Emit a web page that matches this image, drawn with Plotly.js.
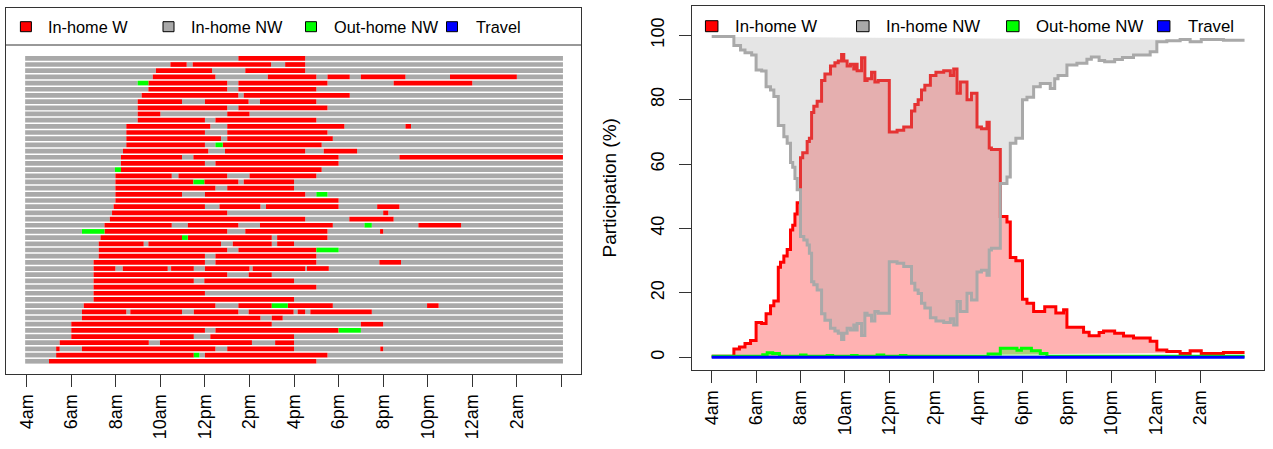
<!DOCTYPE html>
<html><head><meta charset="utf-8">
<script src="https://cdn.plot.ly/plotly-3.0.1.min.js"></script>
<style>html,body{margin:0;padding:0;background:#fff}#chart{width:1273px;height:449px}</style>
</head><body><div id="chart"></div>
<script>
// ---------- data ----------
const states = ["In-home W", "In-home NW", "Out-home NW", "Travel"];
const stateCodes = ["W", "N", "O", "T"];
const stateColors = ["#FF0000", "#A9A9A9", "#00FF00", "#0000FF"];
const stateFills = ["rgba(255,0,0,0.3)", "rgba(169,169,169,0.3)", "rgba(0,255,0,0.3)", "rgba(0,0,255,0.3)"];

const hourTicks = [4, 6, 8, 10, 12, 14, 16, 18, 20, 22, 24, 26, 28];
const hourLabels = ["4am", "6am", "8am", "10am", "12pm", "2pm", "4pm", "6pm", "8pm", "10pm", "12am", "2am", ""];
const pctTicks = [0, 20, 40, 60, 80, 100];

// individual sequences (top row first): state code + start hour
const seqStart = 3.93, seqEnd = 28.07;
const seqRows = [
  "N4 W13.5 N16.5",
  "N4 W10.45 N11.18 W11.45 N14.97 W15.6 N16.5",
  "N4 W9.8 N12.32 W13.81 N16.5",
  "N4 W9.66 N12.47 W14.82 N17 W17.5 N18.5 W19 N21 W23 N26",
  "N4 O8.98 W9.46 N13 W13.5 N17.5 W20.47 N24",
  "N4 W9.46 N13 W13.5 N17",
  "N4 W9.16 N13.5 W13.74 N18.5",
  "N4 W8.98 N10.97 W12 N13.96 W14.47 N17",
  "N4 W8.98 N13 W13.5 N17.5",
  "N4 W8.98 N10 W13 N14",
  "N4 W8.98 N12 W12.47 N17",
  "N4 W8.47 N12.24 W13 N18.26 W21 N21.25",
  "N4 W8.47 N12 W13 N17.5",
  "N4 W8.47 N12.72 W13 N17.74",
  "N4 W8.47 N12 O12.47 W12.8 N17.24",
  "N4 W8.32 N12.15 W12.9 N16.5 W17.33 N18.83",
  "N4 W8.23 N10.97 W11.48 N18 W20.73",
  "N4 W8.23 N12 W12.47 N18",
  "N4 O7.96 W8.23 N17.24",
  "N4 W7.98 N10.51 W10.81 N13 W14 N17",
  "N4 W7.98 O11.48 W11.97 N13.5 W13.74 N16",
  "N4 W7.98 N12.47 W13 N16",
  "N4 W7.98 N10.97 W12 N16.5 O17 N17.5",
  "N4 W7.98 N18",
  "N4 W7.9 N12 W12.65 N14.49 W14.74 N18 W19.73 N20.73",
  "N4 W7.83 N13 W20 N20.23",
  "N4 W7.73 N16.5 W18.48 N20.47",
  "N4 W7.49 N10.51 W11.23 N13.5 W14.47 N17.74 O19.16 N19.49 W21.58 N23.5",
  "N4 O6.48 W7.49 N13 W13.81 N17.5 W19.86 N20",
  "N4 W7.31 O10.97 W11.23 N15 W15.24 N17.5",
  "N4 W7.23 N9.25 W9.46 N12.72 W13.25 N15 W15.24 N16",
  "N4 W7.23 N13 W13.5 O17 N18",
  "N4 W7.23 N12 W12.47 N17",
  "N4 W7 N12 W12.47 N17 W19.83 N20.8",
  "N4 W7 N7.98 W8.31 N10.33 W10.48 N11.5 W12 N14 W14.14 N16.5 W16.58 N17.56",
  "N4 W7 N13 W13.96 N15",
  "N4 W7 N11.5 W11.97 N16",
  "N4 W7 N17",
  "N4 W7 N12",
  "N4 W7 N16",
  "N4 W6.56 N12.47 W13.5 O15 W15.72 N17.74 W21.97 N22.49",
  "N4 W6.48 N8.47 W8.65 N10.97 W11.5 N13.5 W13.96 N15.98 W16.16 N16.5 W16.73 N19.49",
  "N4 W6.48 N14.49 W15 N15.49",
  "N4 W6 N15 W19 N20",
  "N4 W6 N12 W12.47 O18 N19",
  "N4 W6 N11.5 W12.24 N16",
  "N4 W5.48 N9.48 W9.98 N14.11 W15.15 N16",
  "N4 W5.32 N5.48 W6.48 N12.47 W13 N16 W19.87 N20",
  "N4 W5.32 O11.5 N11.75 W12 N17.5",
  "N4 W5 N17"
];

// participation (%) step series
const timeW = [4,5,5.25,5.5,5.75,6,6.25,6.45,6.65,6.8,7,7.1,7.25,7.4,7.55,7.65,7.75,7.85,8,8.1,8.3,8.4,8.5,8.6,8.75,8.95,9.1,9.35,9.55,9.7,9.85,9.95,10.1,10.25,10.4,10.5,10.55,10.75,10.9,11,11.2,11.35,11.5,12,12.35,12.65,13,13.15,13.3,13.45,13.6,13.85,14.1,14.45,14.75,14.9,15.05,15.2,15.5,15.7,15.95,16.15,16.4,16.5,16.6,17,17.3,17.45,17.7,18,18.2,18.5,19,19.5,19.85,20,20.75,21,21.45,21.65,22.15,22.55,23,23.75,24.05,24.5,25.1,25.55,26.05,27.05,28];
const inHomeW = [0.3,2.6,3.2,4.3,5.2,10.8,10.5,13.5,16,17.5,28,29.5,31.5,33.5,39.5,41,44.5,48,62,63.5,67,68,76,78,79.5,86,88,90.5,91.5,92,94,92,90.5,91,89.5,91,89,93,86,86.5,88.5,85.5,86,70,70.5,71.5,76.5,78.5,80,83,84.5,87.5,88.5,89,87.5,89.5,82,85.5,80,82,71.5,71,73,65,64.5,43.7,42,31,30,18,16.8,14.2,15.7,13.8,14.8,9.3,7.8,6.7,7.7,8.2,7.5,6.6,6,5,2.3,1.8,1.2,2,1.2,1.5,1.5];

const timeNW = [4,5,5.3,5.5,5.8,6,6.25,6.45,6.65,6.8,7,7.25,7.4,7.55,7.65,7.75,7.85,8,8.15,8.3,8.4,8.5,8.6,8.75,8.95,9.1,9.35,9.55,9.7,9.85,9.95,10.1,10.25,10.4,10.5,10.55,10.75,10.9,11,11.2,11.35,11.5,12,12.35,12.65,13,13.15,13.3,13.45,13.6,13.85,14.1,14.45,14.75,14.9,15.05,15.2,15.5,15.7,15.95,16.15,16.4,16.5,16.6,17,17.3,17.45,17.7,18,18.2,18.5,18.8,19.25,19.45,19.6,20,20.45,20.9,21.1,21.45,21.7,22.15,22.5,23,23.75,24.05,24.5,25.1,25.55,26.05,27.05,28];
const inHomeNW = [99.6,96.8,95.4,94.6,93.9,89.2,88.9,84,83,81,72,68.5,66.5,60.5,59,55.5,52,37.5,36.4,34.9,32.3,23.5,22.5,20.9,13.5,11.5,9,8.2,7.5,5.5,7.5,9,8.5,10,8.5,10.5,6.8,13.7,13.1,11.3,14.2,13.7,29.7,29.2,28.2,23,20.9,19.8,16.8,15.3,12.3,11.3,10.8,12,10,17.3,14.2,19.9,17.8,26.5,27,25.5,33.3,33.9,54,56,66.5,68,80,80.8,84,85,83.5,86.5,87.5,90.8,91.3,92.6,93.3,92.2,91.8,92.5,93.1,93.9,94.9,98,98.3,98.7,98,98.7,98.5,98.5];

const timeOut = [4,6.3,6.5,6.75,7.05,8,8.25,9.2,9.45,10.3,10.55,11.45,11.75,12.5,12.75,16.45,17,17.75,17.95,18.4,18.8,19.1,28];
const outHomeNW = [0.3,0.8,1.4,1.2,0.3,0.7,0.3,0.6,0.3,0.6,0.3,0.7,0.3,0.6,0.3,1.0,2.8,2.2,2.8,2.0,1.2,0.3,0.3];

const timeTravel = [4, 28];
const travelPct = [0, 0];

// ---------- build ----------
const W = 1273, H = 449;
const PX = v => v / W, PY = v => 1 - v / H;
const FONT = "Liberation Sans, Arial, Helvetica, sans-serif";

// left: sequence index plot
const segs = {W: {y: [], base: [], x: []}, N: {y: [], base: [], x: []}, O: {y: [], base: [], x: []}, T: {y: [], base: [], x: []}};
seqRows.forEach((row, i) => {
  const toks = row.split(" ").map(t => ({c: t[0], s: parseFloat(t.slice(1))}));
  toks[0].s = seqStart;
  toks.forEach((tk, k) => {
    const e = k + 1 < toks.length ? toks[k + 1].s : seqEnd;
    segs[tk.c].y.push(i); segs[tk.c].base.push(tk.s); segs[tk.c].x.push(e - tk.s);
  });
});
const traces = [];
["N", "W", "O", "T"].forEach(c => {
  const idx = stateCodes.indexOf(c);
  if (!segs[c].y.length) return;
  traces.push({type: "bar", orientation: "h", xaxis: "x", yaxis: "y",
    y: segs[c].y, base: segs[c].base, x: segs[c].x, width: 0.76,
    marker: {color: stateColors[idx], line: {width: 0}}, hoverinfo: "skip", showlegend: false});
});

// right: participation curves
const series = [[timeW, inHomeW, 0], [timeNW, inHomeNW, 1], [timeOut, outHomeNW, 2], [timeTravel, travelPct, 3]];
series.forEach(([t, v, idx]) => {
  traces.push({type: "scatter", mode: "lines", xaxis: "x2", yaxis: "y2", x: t, y: v,
    line: {shape: "hv", color: stateColors[idx], width: 3}, fill: "toself", fillcolor: stateFills[idx],
    hoverinfo: "skip", showlegend: false});
});

const axisCommon = {showgrid: false, zeroline: false, showline: true, mirror: true, linecolor: "#333", linewidth: 1,
  ticks: "outside", ticklen: 12, tickcolor: "#333", tickwidth: 1, tickfont: {size: 18, family: FONT, color: "#000"}};

const shapes = [], annotations = [];
// legends
const legL = {sq: [25.9, 168.5, 311, 452], tx: [46.3, 189, 331.5, 474], y: 26.7, w: 11, h: 10, fs: 16.3};
const legR = {sq: [711.7, 862.8, 1012.8, 1163.7], tx: [733.3, 884.3, 1034, 1186], y: 26.2, w: 12.5, h: 11, fs: 16.8};
[legL, legR].forEach(L => {
  states.forEach((s, i) => {
    shapes.push({type: "rect", xref: "paper", yref: "paper",
      x0: PX(L.sq[i] - L.w / 2), x1: PX(L.sq[i] + L.w / 2), y0: PY(L.y + L.h / 2), y1: PY(L.y - L.h / 2),
      fillcolor: stateColors[i], line: {color: "#000", width: 1}});
    annotations.push({xref: "paper", yref: "paper", x: PX(L.tx[i]), y: PY(L.y), xanchor: "left", yanchor: "middle",
      text: s, showarrow: false, font: {size: L.fs, family: FONT, color: "#000"}});
  });
});
shapes.push({type: "line", xref: "paper", yref: "paper", x0: PX(6), x1: PX(581), y0: PY(45), y1: PY(45), line: {color: "#333", width: 1}});
annotations.push({xref: "paper", yref: "paper", x: PX(609), y: PY(188.5), xanchor: "center", yanchor: "middle",
  text: "Participation (%)", textangle: -90, showarrow: false, font: {size: 19, family: FONT, color: "#000"}});

const layout = {
  width: W, height: H, margin: {l: 0, r: 0, t: 0, b: 0}, paper_bgcolor: "#fff", plot_bgcolor: "rgba(0,0,0,0)",
  showlegend: false, barmode: "overlay", font: {family: FONT, size: 18, color: "#000"},
  xaxis: Object.assign({}, axisCommon, {domain: [PX(6), PX(581)], range: [3.07, 28.88], anchor: "y",
    tickvals: hourTicks, ticktext: hourLabels, tickangle: -90}),
  yaxis: Object.assign({}, axisCommon, {domain: [PY(374), PY(8)], range: [51.06, -8.14], anchor: "x",
    ticks: "", showticklabels: false}),
  xaxis2: Object.assign({}, axisCommon, {domain: [PX(691.7), PX(1264.3)], range: [3.1, 28.89], anchor: "y2",
    tickvals: hourTicks.slice(0, 12), ticktext: hourLabels.slice(0, 12), tickangle: -90}),
  yaxis2: Object.assign({}, axisCommon, {domain: [PY(370), PY(6)], range: [-3.94, 109.1], anchor: "x2",
    tickvals: pctTicks, ticktext: pctTicks.map(String), tickangle: -90, ticklabelstandoff: 8}),
  shapes: shapes, annotations: annotations
};

Plotly.newPlot("chart", traces, layout, {staticPlot: true, displayModeBar: false});
</script></body></html>
